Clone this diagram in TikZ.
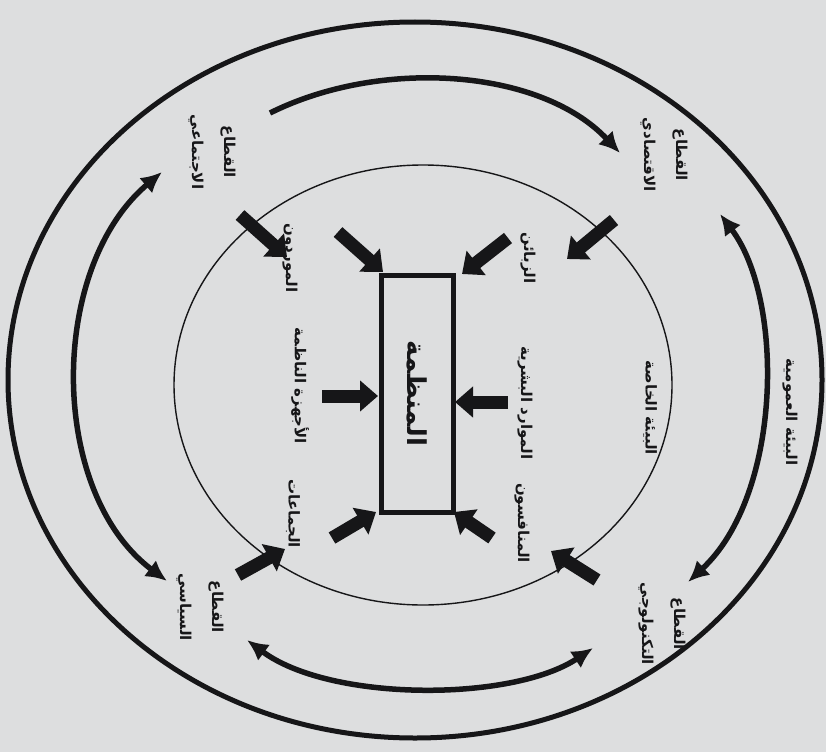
\documentclass[tikz,border=0pt]{standalone}
\usepackage{fontspec}
\usetikzlibrary{arrows.meta}
\newfontfamily\arabicfont[Script=Arabic]{DejaVu Sans}
\TeXXeTstate=1
\definecolor{paper}{RGB}{221,222,223}
\definecolor{ink}{RGB}{22,22,24}
\begin{document}
\begin{tikzpicture}[x=1pt,y=-1pt,
  lbl/.style={rotate=-90, text=ink, font=\arabicfont\bfseries\fontsize{15}{32}\selectfont, align=center, inner sep=0pt},
  blockarrow/.style={draw=ink, line width=13pt, -{Triangle[length=18pt,width=30pt]}},
  curvearrow/.style={draw=ink, line width=5.5pt, {Latex[length=21pt,width=20pt]}-{Latex[length=21pt,width=20pt]}},
  onearrow/.style={draw=ink, line width=5.5pt, -{Latex[length=21pt,width=20pt]}},
]
\fill[paper] (0,0) rectangle (826,752);
\useasboundingbox (0,0) rectangle (826,752);

% ellipses
\draw[ink, line width=5pt] (415,380) ellipse [x radius=407pt, y radius=358pt];
\draw[ink, line width=1.4pt] (423,385) ellipse [x radius=249pt, y radius=220pt];

% organisation box
\node[rotate=-90, draw=ink, line width=5pt, minimum width=237pt, minimum height=72pt, inner sep=0pt,
      text=ink, font=\arabicfont\bfseries\fontsize{26}{30}\selectfont] (org) at (417,393.5) {\beginR المنظمة\endR};

% sector labels (general environment)
\node[lbl] (social) at (212,152) {\beginR القطاع\endR\\\beginR الاجتماعي\endR};
\node[lbl] (econ) at (664,155) {\beginR القطاع\endR\\\beginR الاقتصادي\endR};
\node[lbl] (polit) at (200,607) {\beginR القطاع\endR\\\beginR السياسي\endR};
\node[lbl] (tech) at (662,624) {\beginR القطاع\endR\\\beginR التكنولوجي\endR};

% inner labels (task environment)
\node[lbl] (suppl) at (290,258) {\beginR الموردون\endR};
\node[lbl] (cust) at (528,258) {\beginR الزبائن\endR};
\node[lbl] (regul) at (300,386) {\beginR الأجهزة الناظمة\endR};
\node[lbl] (hr) at (525,403) {\beginR الموارد البشرية\endR};
\node[lbl] (groups) at (293,514) {\beginR الجماعات\endR};
\node[lbl] (comp) at (522,523) {\beginR المنافسون\endR};
\node[lbl] (spec) at (650,408) {\beginR البيئة الخاصة\endR};
\node[lbl] (gen) at (790,412) {\beginR البيئة العمومية\endR};

% block arrows to the organisation
\coordinate (a1) at (338,232); \coordinate (t1) at (383,272);
\coordinate (a2) at (508,238); \coordinate (t2) at (462,274);
\coordinate (a3) at (322,396); \coordinate (t3) at (378,396);
\coordinate (a4) at (508,402); \coordinate (t4) at (455,402);
\coordinate (a5) at (332,538); \coordinate (t5) at (376,512);
\coordinate (a6) at (492,538); \coordinate (t6) at (454,512);
\foreach \i in {1,...,6} {\draw[blockarrow] (a\i) -- (t\i);}

% block arrows from the general sectors to the task environment
\coordinate (b1) at (240,215); \coordinate (u1) at (287,257);
\coordinate (b2) at (614,220); \coordinate (u2) at (567,259);
\coordinate (b3) at (238,575); \coordinate (u3) at (285,549);
\coordinate (b4) at (597,580); \coordinate (u4) at (551,551);
\foreach \i in {1,...,4} {\draw[blockarrow] (b\i) -- (u\i);}

% curved arrows between sectors
\coordinate (c1s) at (270,113); \coordinate (c1e) at (620,153);
\draw[onearrow] (c1s) .. controls (380,58) and (540,68) .. (c1e);
\coordinate (c2s) at (162,172); \coordinate (c2e) at (167,581);
\draw[curvearrow] (c2s) .. controls (48,268) and (48,492) .. (c2e);
\coordinate (c3s) at (720,214); \coordinate (c3e) at (688,582);
\draw[curvearrow] (c3s) .. controls (785,300) and (782,495) .. (c3e);
\coordinate (c4s) at (247,640); \coordinate (c4e) at (593,648);
\draw[curvearrow] (c4s) .. controls (330,702) and (512,702) .. (c4e);
\end{tikzpicture}
\end{document}
